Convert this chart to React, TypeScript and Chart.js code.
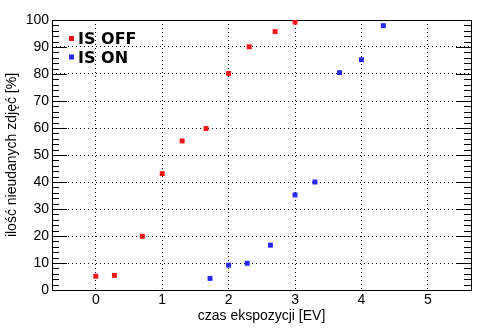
import React, { useEffect, useRef } from 'react';
import { Chart, registerables } from 'chart.js';

Chart.register(...registerables);

const seriesLabels = ['IS OFF', 'IS ON'];
const seriesColors = ['#f01414', '#2828f0'];
const offX = [0, 0.28, 0.7, 1.0, 1.3, 1.66, 2.0, 2.31, 2.7, 3.0];
const offY = [5.1, 5.4, 19.9, 43.1, 55.2, 59.8, 80.2, 90.1, 95.7, 99.2];
const onX = [1.72, 2.0, 2.28, 2.63, 3.0, 3.3, 3.67, 4.0, 4.33];
const onY = [4.3, 9.2, 9.9, 16.6, 35.2, 40.0, 80.5, 85.3, 97.9];
const xTitle = 'czas ekspozycji [EV]';
const yTitle = 'ilość nieudanych zdjęć [%]';

const FONT = "'Liberation Sans', Arial, sans-serif";

const framePlugin = {
  id: 'frameTicks',
  beforeDatasetsDraw(chart: any) {
    const { ctx, chartArea } = chart;
    const y = chart.scales.y;
    const { left, right, top, bottom } = chartArea;
    ctx.save();
    ctx.strokeStyle = '#000';
    ctx.lineWidth = 1;
    ctx.setLineDash([]);
    ctx.beginPath();
    for (let v = 0; v <= 100; v += 2) {
      const py = Math.round(y.getPixelForValue(v)) + 0.5;
      const len = v % 10 === 0 ? 15 : 7;
      ctx.moveTo(left, py);
      ctx.lineTo(left + len, py);
      ctx.moveTo(right, py);
      ctx.lineTo(right - len, py);
    }
    ctx.stroke();
    ctx.strokeRect(Math.round(left) + 0.5, Math.round(top) + 0.5, Math.round(right - left), Math.round(bottom - top));
    ctx.restore();
  },
};

const legendPlugin = {
  id: 'insideLegend',
  afterDatasetsDraw(chart: any) {
    const { ctx, chartArea } = chart;
    ctx.save();
    ctx.font = "bold 16px 'DejaVu Sans', Verdana, sans-serif";
    ctx.textBaseline = 'alphabetic';
    ctx.textAlign = 'left';
    chart.data.datasets.forEach((ds: any, i: number) => {
      const cx = chartArea.left + 19.5;
      const cy = chartArea.top + 18.5 + i * 18.5;
      ctx.fillStyle = ds.backgroundColor;
      ctx.fillRect(cx - 2.5, cy - 2.5, 5, 5);
      ctx.fillStyle = '#000';
      ctx.fillText(ds.label, chartArea.left + 26, cy + 5.8);
    });
    ctx.restore();
  },
};

export default function App() {
  const ref = useRef<HTMLCanvasElement>(null);
  useEffect(() => {
    document.body.style.margin = '0';
    const chart = new Chart(ref.current!, {
      type: 'scatter',
      data: {
        datasets: [
          {
            label: seriesLabels[0],
            data: offX.map((x, i) => ({ x, y: offY[i] })),
            backgroundColor: seriesColors[0],
            borderWidth: 0,
            pointStyle: 'rect',
            pointRadius: 3.5,
          },
          {
            label: seriesLabels[1],
            data: onX.map((x, i) => ({ x, y: onY[i] })),
            backgroundColor: seriesColors[1],
            borderWidth: 0,
            pointStyle: 'rect',
            pointRadius: 3.5,
          },
        ],
      },
      options: {
        animation: false,
        responsive: false,
        layout: { padding: { left: 0, top: 20, right: 23, bottom: 0 }, autoPadding: false },
        plugins: { legend: { display: false }, tooltip: { enabled: false } },
        scales: {
          x: {
            type: 'linear',
            min: -0.66,
            max: 5.65,
            afterFit: (s: any) => { s.height = 41; },
            ticks: { stepSize: 1, includeBounds: false, padding: 2, color: '#000', font: { family: FONT, size: 14 } },
            grid: { color: '#000', lineWidth: 1, drawTicks: false },
            border: { display: false, dash: [1, 3] },
            title: { display: true, text: xTitle, color: '#000', font: { family: FONT, size: 14 }, padding: { top: 0, bottom: 6 } },
          },
          y: {
            type: 'linear',
            min: 0,
            max: 100,
            afterFit: (s: any) => { s.width = 52; },
            ticks: { stepSize: 10, padding: 3, color: '#000', font: { family: FONT, size: 14 } },
            grid: { color: '#000', lineWidth: 1, drawTicks: false },
            border: { display: false, dash: [1, 3] },
            title: { display: true, text: yTitle, color: '#000', font: { family: FONT, size: 14 }, padding: { top: 4, bottom: 0 } },
          },
        },
      },
      plugins: [framePlugin, legendPlugin],
    });
    return () => chart.destroy();
  }, []);
  return (
    <div style={{ width: 494, height: 331 }}>
      <canvas ref={ref} width={494} height={331} />
    </div>
  );
}
